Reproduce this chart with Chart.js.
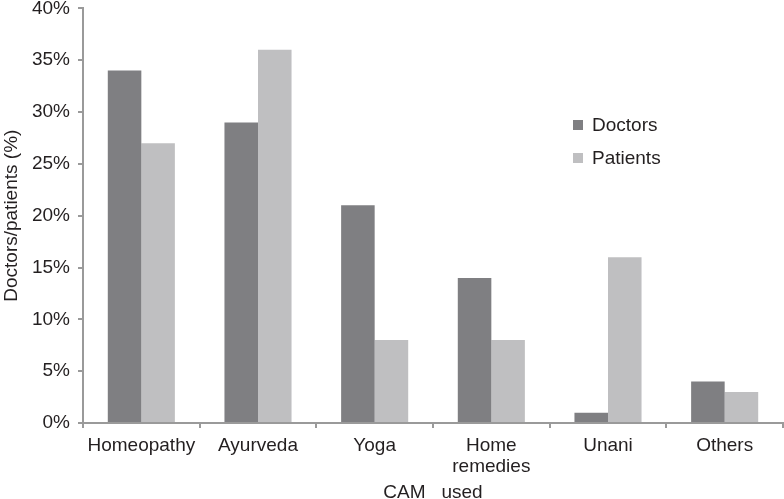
<!DOCTYPE html>
<html>
<head>
<meta charset="utf-8">
<script src="https://cdn.jsdelivr.net/npm/chart.js@4/dist/chart.umd.min.js"></script>
<style>
  html, body { margin: 0; padding: 0; background: #fff; }
  #wrap { width: 784px; height: 499px; position: relative; overflow: hidden; }
  #inner { position: absolute; left: 0; top: -11px; width: 784px; height: 515px; }
</style>
</head>
<body>
<div id="wrap"><div id="inner"><canvas id="c"></canvas></div></div>
<script>
/* ── DATA ────────────────────────────────────────────────── */
const categories = ["Homeopathy", "Ayurveda", "Yoga", ["Home", "remedies"], "Unani", "Others"];
const doctors    = [34, 29, 21, 14, 1, 4];
const patients   = [27, 36, 8, 8, 16, 3];
const yTicks     = [0, 5, 10, 15, 20, 25, 30, 35, 40];

const TEXT = "#231f20";
const AXIS = "#9a9a9a";
const FONT = "'Liberation Sans', Arial, sans-serif";
const FS   = 19;

/* ── LEGEND (drawn inside the plot) ──────────────────────── */
// canvas is shifted up 11px, so page y = canvas y - 11
const floatLegend = {
  id: "floatLegend",
  afterDraw(chart) {
    const ctx = chart.ctx;
    ctx.save();
    ctx.font = `${FS}px ${FONT}`;
    ctx.textBaseline = "middle";
    chart.data.datasets.forEach((ds, i) => {
      const y = 125 + 11 + i * 33;
      ctx.fillStyle = ds.backgroundColor;
      ctx.fillRect(573, y - 5, 10, 10);
      ctx.fillStyle = TEXT;
      ctx.fillText(ds.label, 592, y + 1);
    });
    ctx.restore();
  }
};

new Chart(document.getElementById("c"), {
  type: "bar",
  data: {
    labels: categories,
    datasets: [
      { label: "Doctors",  data: doctors,  backgroundColor: "#7f7f82" },
      { label: "Patients", data: patients, backgroundColor: "#bfbfc1" }
    ]
  },
  options: {
    responsive: true, maintainAspectRatio: false, animation: false,
    layout: { padding: { top: 0, right: 1, left: 0, bottom: 0 } },
    plugins: { legend: { display: false }, tooltip: { enabled: false } },
    datasets: { bar: { barPercentage: 1, categoryPercentage: 0.575 } },
    scales: {
      x: {
        offset: true,
        border: { color: AXIS, width: 2 },
        grid: { display: true, drawOnChartArea: false, color: AXIS, lineWidth: 2, tickLength: 5, offset: true },
        ticks: { color: TEXT, font: { family: FONT, size: FS, lineHeight: 1.1 }, padding: 7, maxRotation: 0 },
        title: { display: true, text: "CAM   used", color: TEXT, font: { family: FONT, size: FS }, padding: { top: 0, bottom: 0 } },
        afterFit(s) { s.height = 81; }
      },
      y: {
        min: 0, max: 40,
        afterBuildTicks(s) { s.ticks = yTicks.map(v => ({ value: v })); },
        border: { color: AXIS, width: 2 },
        grid: { display: true, drawOnChartArea: false, color: AXIS, lineWidth: 2, tickLength: 5 },
        ticks: { color: TEXT, font: { family: FONT, size: FS }, padding: 8, callback: v => v + "%" },
        title: { display: true, text: "Doctors/patients (%)", color: TEXT, font: { family: FONT, size: FS }, padding: { top: 0, bottom: 0 } },
        afterFit(s) { s.width = 83; }
      }
    }
  },
  plugins: [floatLegend]
});
</script>
</body>
</html>
